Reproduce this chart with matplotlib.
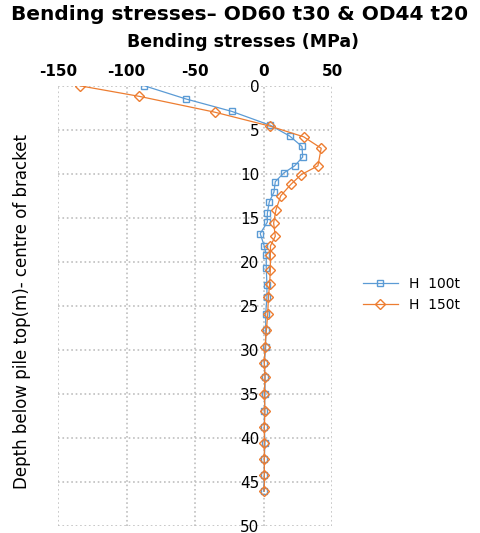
import matplotlib.pyplot as plt

plt.rcParams['axes.unicode_minus'] = False

# depth (m) and bending stress (MPa)
depth_100 = [0, 1.5, 2.9, 4.5, 5.7, 6.9, 8.1, 9.1, 9.9, 10.9, 12.1, 13.2, 14.5, 15.5,
             16.8, 18.2, 19.2, 20.7, 22.6, 24.0, 25.9, 27.8, 29.7, 31.5, 33.1, 35.1,
             37.0, 38.8, 40.6, 42.4, 44.3, 46.1]
stress_100 = [-87, -56.6, -23.4, 5, 18.9, 28, 28.5, 22.6, 14.8, 8.5, 7.5, 4.1, 2.7, 2.7,
              -2.5, 0.4, 1.9, 1.9, 2.4, 2.4, 1.5, 1.5, 1.5, 0.5, 1, 1,
              0.5, 0.5, 1, 0.5, 0.5, 0]

depth_150 = [0, 1.2, 3.0, 4.6, 5.8, 7.1, 9.1, 10.1, 11.2, 12.5, 14.1, 15.6, 17.1, 18.2,
             19.2, 20.9, 22.5, 24.0, 25.9, 27.8, 29.7, 31.5, 33.1, 35.1, 37.0, 38.8,
             40.6, 42.4, 44.3, 46.1]
stress_150 = [-134, -90.7, -35.6, 5, 29.2, 42, 39.6, 27.4, 19.9, 12.5, 9, 7.3, 8.5, 5,
              4.9, 4.9, 4.4, 3.5, 3, 2, 1, 0.5, 1, 0.5, 1, 0.5,
              0.5, 0.5, 0.5, 0.5]

x_ticks = [-150, -100, -50, 0, 50]
y_ticks = [0, 5, 10, 15, 20, 25, 30, 35, 40, 45, 50]

fig = plt.figure(figsize=(4.8, 5.33), dpi=100)
ax = fig.add_axes([0.121, 0.014, 0.571, 0.825])

ax.plot(stress_100, depth_100, color='#5B9BD5', lw=0.9, marker='s', ms=5,
        mfc='none', mec='#5B9BD5', mew=1, label='H  100t')
ax.plot(stress_150, depth_150, color='#ED7D31', lw=0.9, marker='D', ms=5,
        mfc='none', mec='#ED7D31', mew=1, label='H  150t')

ax.set_xlim(-150, 50)
ax.set_ylim(50, 0)
ax.set_xticks(x_ticks)
ax.set_yticks(y_ticks)
ax.xaxis.tick_top()
ax.tick_params(axis='x', length=0, pad=5, labelsize=11)
ax.tick_params(axis='y', length=0, pad=3, labelsize=11)
for lbl in ax.get_xticklabels() + ax.get_yticklabels():
    lbl.set_fontweight('bold')

# vertical axis crosses at x = 0 (Excel style)
ax.spines['left'].set_position(('data', 0))
for s in ['top', 'right', 'bottom', 'left']:
    ax.spines[s].set_visible(False)
ax.grid(True, color='#BFBFBF', ls=':', lw=1.2)
ax.set_axisbelow(True)
ax.patch.set_alpha(0)

fig.text(0.5, 0.972, 'Bending stresses\u2013 OD60 t30 & OD44 t20', ha='center',
         va='center', fontsize=14.5, fontweight='bold')
fig.text(0.506, 0.921, 'Bending stresses (MPa)', ha='center', va='center',
         fontsize=12.5, fontweight='bold')
fig.text(0.045, 0.415, 'Depth below pile top(m)- centre of bracket', rotation=90,
         ha='center', va='center', fontsize=12)

fig.legend(loc='center left', bbox_to_anchor=(0.73, 0.448), frameon=False,
           fontsize=10, handlelength=2.5)

fig.savefig('out.png', dpi=100)
